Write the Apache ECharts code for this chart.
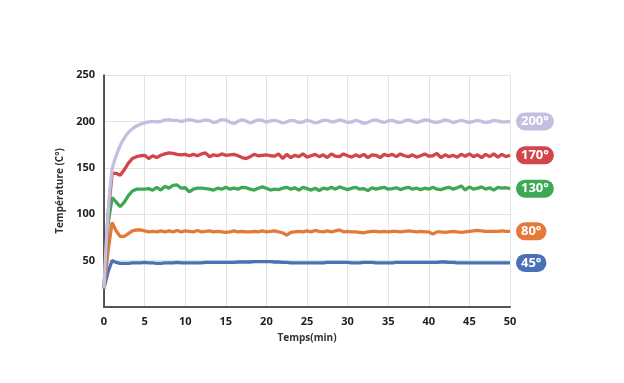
<!DOCTYPE html>
<html><head><meta charset="utf-8">
<script src="https://cdn.jsdelivr.net/npm/echarts@6/dist/echarts.min.js"></script>
<style>html,body{margin:0;padding:0;background:#fff}#c{width:624px;height:383px}</style>
</head><body><div id="c"></div>
<script>
var times = [0,0.5,1,1.5,2,2.5,3,3.5,4,4.5,5,5.5,6,6.5,7,7.5,8,8.5,9,9.5,10,10.5,11,11.5,12,12.5,13,13.5,14,14.5,15,15.5,16,16.5,17,17.5,18,18.5,19,19.5,20,20.5,21,21.5,22,22.5,23,23.5,24,24.5,25,25.5,26,26.5,27,27.5,28,28.5,29,29.5,30,30.5,31,31.5,32,32.5,33,33.5,34,34.5,35,35.5,36,36.5,37,37.5,38,38.5,39,39.5,40,40.5,41,41.5,42,42.5,43,43.5,44,44.5,45,45.5,46,46.5,47,47.5,48,48.5,49,49.5,50];
var seriesNames = ['200°','170°','130°','80°','45°'];
var s200 = [20,100,148,163,174,182,188,192,195,197,198.5,199.5,200,199.5,200,201.5,202,201,201,200,201,202,201,200,200.5,201.5,201,199,200,202,201.5,199,198,200,201.5,200.5,198.5,200,201.5,201,199.5,200.5,201,200,198.5,199.5,201,200.5,199,199.5,201,200,198.5,199.5,201,201,199.5,200,201.5,200.5,199,199.5,201,200,198,199,201,201.5,200,199,200.5,201,199.5,199,200.5,201.5,200,199,200,201.5,201,199.5,199,200,201.5,200.5,199,200,201,200,199,200,201,200,199,199.5,201,200.5,199.5,199.5,200];
var s170 = [20,100,144,144,142,148,155,160,162,163,163.5,160,163,161,163.5,165,166,165.5,164.5,164,164.5,163,164.5,163,165,166,162,164,163,165,163.5,164,164.5,163,161,160,162,164.5,163,163.5,164,163,162.5,165,160,164.5,161,163.5,162,165,161.5,163,164.5,162,164,161,165,162.5,162,165,163,161.5,164,162,164.5,161,164,163.5,161,164.5,163,164.5,162,165,163,162,164,161.5,163,165,162.5,163,165.5,161,164,162,163.5,161.5,164.5,162.5,165,162,164,161,164.5,162,165,161.5,164.5,162,163.5];
var s130 = [20,90,118,113,108,113,120,125,127,127,127,127.5,126,129,126,130,128,131,131.5,128,128.5,124,127,128,128,127.5,127,126,128,127,129,127,128,127,129,128.5,127,126,128,129.5,128,126,127,126.5,128,129,127,128.5,126,129,127.5,126,128,125.5,128,127,129,127,129.5,128,126.5,128,129,127,127.5,125.5,128.5,127,128,129,127,127.5,128.5,126.5,128,129,127,128,126.5,128,127,129,127,126.5,128,129,127,128.5,130.5,126,129.5,127,128,129.5,127,128.5,126,129,128,128.5,127.5];
var s80 = [20,60,91,82,76,76,79,82,83,83,82,81,81.5,81,82,81,82,81,82.5,81,82,81.5,81,82.5,81,81.5,82,81,81.5,81,80.5,81,82,81,81.5,81,81,81.5,81,82,81,81.5,82,81,80,77.5,80.5,81,81.5,81,82,81,82.5,81.5,81,82,81,82,83,81,81.5,81,81,80.5,80,81,81.5,81.5,81,81.5,81,81.5,81.5,81,81.5,82,81.5,81,81.5,81,81,78.5,81,81,80.5,81,81.5,81,80.5,81,81.5,82,82.5,82,81.5,81.5,81.5,81.5,82,81.5,81.5];
var s45 = [20,38,50,48,47,47,47,47.5,47.5,47.5,48,47.5,47.5,47,47,47.5,47.5,47.5,48,47.5,47.5,47.5,47.5,47.5,47.5,48,48,48,48,48,48,48,48,48.5,48.5,48.5,48.5,49,49,49,49,49,48.5,48.5,48,48,47.5,47.5,47.5,47.5,47.5,47.5,47.5,47.5,47.5,48,48,48,48,48,48,47.5,47.5,47.5,48,48,48,47.5,47.5,47.5,47.5,47.5,48,48,48,48,48,48,48,48,48,48,48,48.5,48.5,48,48,47.5,47.5,47.5,47.5,47.5,47.5,47.5,47.5,47.5,47.5,47.5,47.5,47.5,47.5];
var yTicks = [50,100,150,200,250];
var xTicks = [0,5,10,15,20,25,30,35,40,45,50];

var colors = ['#c3bfe0','#d2454b','#3da957','#e5793a','#4a70b6'];
var values = [s200,s170,s130,s80,s45];
function pairs(v){ return times.map(function(t,i){ return [t, v[i]]; }); }
var FONT = '"Open Sans", "Noto Sans", sans-serif';
var series = values.map(function(v,i){
  return {
    name: seriesNames[i], type:'line', data: pairs(v), showSymbol:false, smooth: i===0 ? 0.4 : false,
    lineStyle:{color:colors[i], width:3.3}, itemStyle:{color:colors[i]},
    z: 10-i,
    endLabel:{show:true, formatter: seriesNames[i], backgroundColor: colors[i], color:'#fff',
      fontFamily: FONT, fontWeight:'bold', fontSize:13, padding:[3,5,2,5], borderRadius:10, distance:6}
  };
});
var chart = echarts.init(document.getElementById('c'));
chart.setOption({
  animation:false,
  textStyle:{fontFamily:FONT},
  grid:{left:104, right:114, top:75, bottom:76},
  xAxis:{type:'value', min:0, max:50, interval:5,
    name:'Temps(min)', nameLocation:'middle', nameGap:26,
    nameTextStyle:{fontFamily:FONT, fontWeight:'bold', fontSize:10, color:'#333'},
    axisLine:{lineStyle:{color:'#555', width:2}}, axisTick:{show:false},
    axisLabel:{fontFamily:FONT, fontWeight:'bold', fontSize:11, color:'#222', margin:9,
      formatter:function(v){ return xTicks.indexOf(v)>=0 ? String(v) : ''; }},
    splitLine:{show:true, lineStyle:{color:'#e3e3e3', width:1}}},
  yAxis:{type:'value', min:0, max:250, interval:50,
    name:'Température (C°)', nameLocation:'middle', nameGap:36,
    nameTextStyle:{fontFamily:FONT, fontWeight:'bold', fontSize:10, color:'#333'},
    axisLine:{show:true, lineStyle:{color:'#222', width:1.5}}, axisTick:{show:false},
    axisLabel:{fontFamily:FONT, fontWeight:'bold', fontSize:11, color:'#222', margin:9, showMinLabel:false,
      formatter:function(v){ return yTicks.indexOf(v)>=0 ? String(v) : ''; }},
    splitLine:{show:true, lineStyle:{color:'#e3e3e3', width:1}}},
  series: series
});
</script></body></html>
